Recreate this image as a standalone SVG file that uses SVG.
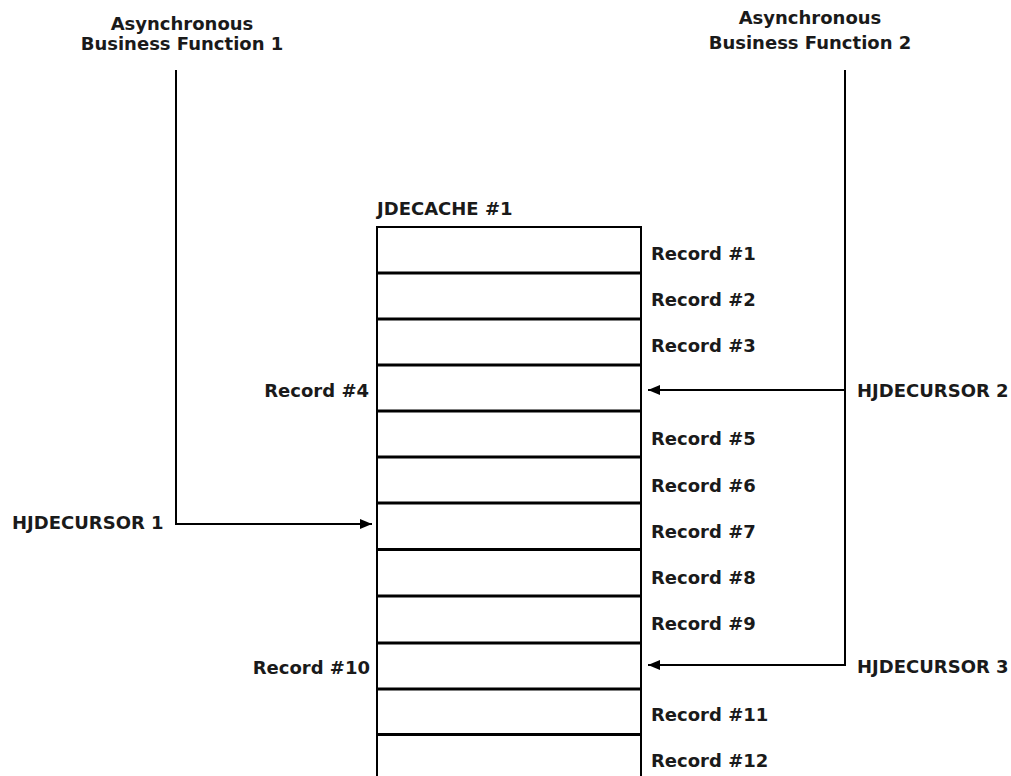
<svg xmlns="http://www.w3.org/2000/svg" width="1011" height="776" viewBox="0 0 1011 776">
  <style>
    .t { font-family: "DejaVu Sans", "Liberation Sans", sans-serif; font-weight: bold; font-size: 18px; fill: #1a1a1a; }
    .mid { text-anchor: middle; }
    .end { text-anchor: end; }
    .edge { stroke: #000; stroke-width: 2; fill: none; }
    .sep { stroke: #000; stroke-width: 2.8; }
    .conn { stroke: #000; stroke-width: 2; fill: none; }
  </style>
  <defs>
    <marker id="arrow" viewBox="0 0 12 10" refX="12" refY="5" markerWidth="12" markerHeight="10" markerUnits="userSpaceOnUse" orient="auto">
      <path d="M0,0 L12,5 L0,10 z" fill="#000"/>
    </marker>
  </defs>
  <rect width="1011" height="776" fill="#fff"/>

  <!-- calling functions -->
  <g id="func1">
    <text class="t mid" x="182" y="30">Asynchronous</text>
    <text class="t mid" x="182" y="50">Business Function 1</text>
  </g>
  <g id="func2">
    <text class="t mid" x="810" y="24">Asynchronous</text>
    <text class="t mid" x="810" y="49">Business Function 2</text>
  </g>

  <!-- the cache: open-ended stack of records -->
  <g id="cache">
    <text class="t" x="377" y="215">JDECACHE #1</text>
    <line class="edge" x1="377" y1="227" x2="377" y2="776"/>
    <line class="edge" x1="641" y1="227" x2="641" y2="776"/>
    <line class="edge" x1="376" y1="227" x2="642" y2="227"/>
    <g class="sep">
      <line x1="377" y1="273" x2="641" y2="273"/>
      <line x1="377" y1="319" x2="641" y2="319"/>
      <line x1="377" y1="365" x2="641" y2="365"/>
      <line x1="377" y1="411" x2="641" y2="411"/>
      <line x1="377" y1="457" x2="641" y2="457"/>
      <line x1="377" y1="503" x2="641" y2="503"/>
      <line x1="377" y1="549.5" x2="641" y2="549.5"/>
      <line x1="377" y1="596" x2="641" y2="596"/>
      <line x1="377" y1="643" x2="641" y2="643"/>
      <line x1="377" y1="689" x2="641" y2="689"/>
      <line x1="377" y1="734.5" x2="641" y2="734.5"/>
    </g>
    <text class="t" x="651" y="259.5">Record #1</text>
    <text class="t" x="651" y="305.5">Record #2</text>
    <text class="t" x="651" y="351.5">Record #3</text>
    <text class="t end" x="369" y="396.5">Record #4</text>
    <text class="t" x="651" y="444.5">Record #5</text>
    <text class="t" x="651" y="491.5">Record #6</text>
    <text class="t" x="651" y="537.5">Record #7</text>
    <text class="t" x="651" y="583.5">Record #8</text>
    <text class="t" x="651" y="629.5">Record #9</text>
    <text class="t end" x="370" y="673.5">Record #10</text>
    <text class="t" x="651" y="720.5">Record #11</text>
    <text class="t" x="651" y="766.5">Record #12</text>
  </g>

  <!-- cursor handles -->
  <g id="cursor1">
    <text class="t" x="12" y="529">HJDECURSOR 1</text>
  </g>
  <g id="cursor2">
    <text class="t" x="857" y="396.5">HJDECURSOR 2</text>
  </g>
  <g id="cursor3">
    <text class="t" x="857" y="672.5">HJDECURSOR 3</text>
  </g>

  <!-- connectors -->
  <g id="connectors">
    <path class="conn" d="M176,70 V524 H372" marker-end="url(#arrow)"/>
    <path class="conn" d="M845,70 V390 H648" marker-end="url(#arrow)"/>
    <path class="conn" d="M845,390 V665 H648" marker-end="url(#arrow)"/>
  </g>
</svg>
